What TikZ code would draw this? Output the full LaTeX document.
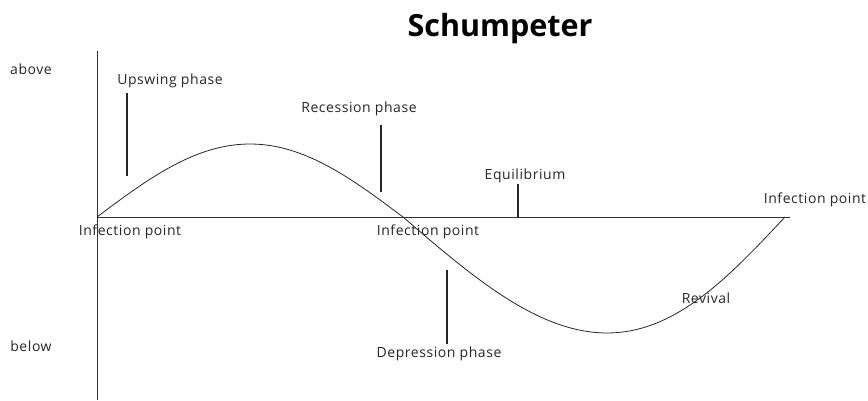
\documentclass[tikz,border=0pt]{standalone}
\usepackage{fontspec}
\setmainfont{Open Sans}[LetterSpace=4]
\newfontfamily\titlefont{Open Sans}
\begin{document}
\begin{tikzpicture}[x=1pt,y=-1pt,
  lbl/.style={font=\fontsize{14}{16}\selectfont, text=black!85, inner sep=0pt, anchor=base},
  tickline/.style={line width=1.1pt, black!85},
  axisline/.style={line width=1pt, black!80},
  cycle/.style={line width=0.8pt, black!85}]
  \useasboundingbox (0,0) rectangle (868,401);
  % title
  \node[font=\titlefont\fontsize{30.5}{34}\selectfont\bfseries, inner sep=0pt, anchor=base] (title) at (500,37) {Schumpeter};
  % axes
  \coordinate (o) at (97,217);
  \coordinate (ytop) at (97,51);
  \coordinate (ybot) at (97,400);
  \coordinate (xend) at (790,217);
  \draw[axisline] (ytop) -- (ybot);
  \draw[axisline] (o) -- (xend);
  \node[lbl] (above) at (31,75) {above};
  \node[lbl] (below) at (31,351) {below};
  % the wave
  \draw[cycle] plot[domain=0:180, samples=60] ({97+1.7*\x},{217-73*sin(\x)});
  \draw[cycle] plot[domain=0:180, samples=60] ({403+2.1222*\x+13*sin(\x)},{217+116*sin(\x)});
  % labels
  \node[lbl] (ip1) at (130,236) {Infection point};
  \node[lbl] (ip2) at (428,236) {Infection point};
  \node[lbl] (ip3) at (815,204) {Infection point};
  \node[lbl] (up) at (170,85) {Upswing phase};
  \node[lbl] (rec) at (359,113) {Recession phase};
  \node[lbl] (eq) at (525,179) {Equilibrium};
  \node[lbl] (dep) at (439,357) {Depression phase};
  \node[lbl] (rev) at (706,303) {Revival};
  % pointers
  \coordinate (up1) at (127,93);
  \coordinate (up2) at (127,176);
  \coordinate (rec1) at (381,125);
  \coordinate (rec2) at (381,192);
  \coordinate (eq1) at (518,184);
  \coordinate (eq2) at (518,217);
  \coordinate (dep1) at (447,270);
  \coordinate (dep2) at (447,344);
  \draw[tickline] (up1) -- (up2);
  \draw[tickline] (rec1) -- (rec2);
  \draw[tickline] (eq1) -- (eq2);
  \draw[tickline] (dep1) -- (dep2);
\end{tikzpicture}
\end{document}
